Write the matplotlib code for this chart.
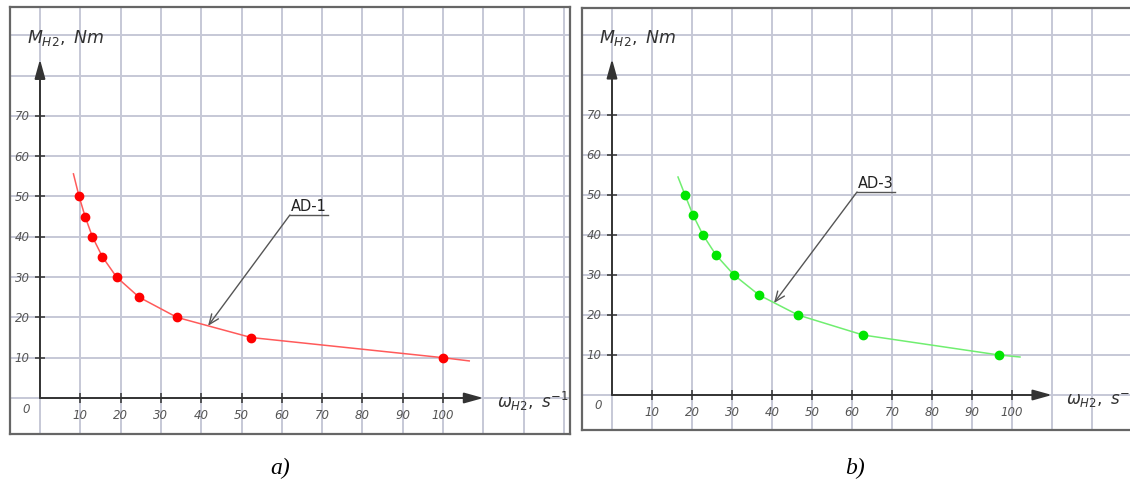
import matplotlib
matplotlib.use("Agg")
import matplotlib.pyplot as plt

# torque (Nm) vs angular speed (1/s) for two motors
torque = [50, 45, 40, 35, 30, 25, 20, 15, 10]
ad1_omega = [9.7, 11.2, 13.0, 15.5, 19.0, 24.6, 34.0, 52.4, 100.0]
ad3_omega = [18.25, 20.25, 22.75, 26.0, 30.5, 36.75, 46.5, 62.75, 96.75]
# where the drawn curves start / stop beyond the measured points
ad1_ends = [(8.3, 55.6), (106.5, 9.2)]
ad3_ends = [(16.5, 54.5), (102.0, 9.5)]

x_ticks = [10, 20, 30, 40, 50, 60, 70, 80, 90, 100]
y_ticks = [10, 20, 30, 40, 50, 60, 70]

GRID = "#c6c8d6"
AXC = "#333333"
TXT = "#555555"


def panel(ax, omega, ends, dot_c, line_c, name, tip, shelf, xlim, ylim, right_edge):
    ax.set_xlim(*xlim)
    ax.set_ylim(*ylim)
    ax.set_xticks([])
    ax.set_yticks([])
    for s in ax.spines.values():
        s.set_color("#666666")
        s.set_linewidth(1.6)
    ax.spines["right"].set_visible(right_edge)

    for g in range(0, 140, 10):
        ax.axvline(g, color=GRID, lw=1.4, zorder=0)
    for g in range(0, 100, 10):
        ax.axhline(g, color=GRID, lw=1.4, zorder=0)

    # axes with arrows
    ax.annotate("", xy=(0, 84), xytext=(0, 0),
                arrowprops=dict(arrowstyle="-|>,head_length=1.15,head_width=0.32",
                                mutation_scale=10, color=AXC, lw=1.4, shrinkA=0, shrinkB=0))
    ax.annotate("", xy=(110, 0), xytext=(0, 0),
                arrowprops=dict(arrowstyle="-|>,head_length=1.15,head_width=0.32",
                                mutation_scale=10, color=AXC, lw=1.4, shrinkA=0, shrinkB=0))
    ax.plot(x_ticks, [0] * len(x_ticks), ls="none", marker="|", ms=7, mew=1.1, color=AXC)
    ax.plot([0] * len(y_ticks), y_ticks, ls="none", marker="_", ms=7, mew=1.1, color=AXC)

    for t in x_ticks:
        ax.text(t, -4.2, str(t), ha="center", va="center", fontsize=8.5,
                style="italic", color=TXT)
    for t in y_ticks:
        ax.text(-2.6, t, str(t), ha="right", va="center", fontsize=8.5,
                style="italic", color=TXT)
    ax.text(-3.5, -2.5, "0", ha="center", va="center", fontsize=8.5,
            style="italic", color=TXT)

    ax.text(-3.3, 89.5, r"$M_{H2},\ Nm$", ha="left", va="center",
            fontsize=12.5, color="#333333")
    ax.text(113.5, -0.5, r"$\omega_{H2},\ s^{-1}$", ha="left",
            va="center", fontsize=12, color="#333333", clip_on=False)

    cx = [ends[0][0]] + omega + [ends[1][0]]
    cy = [ends[0][1]] + torque + [ends[1][1]]
    ax.plot(cx, cy, color=line_c, lw=1.1, zorder=3)
    ax.plot(omega, torque, ls="none", marker="o", ms=6, color=dot_c, zorder=4)

    # leader with label
    ax.plot([shelf[0], shelf[1]], [shelf[2], shelf[2]], color="#555555", lw=1.0)
    ax.annotate("", xy=tip, xytext=(shelf[0], shelf[2]),
                arrowprops=dict(arrowstyle="->,head_length=0.6,head_width=0.25",
                                mutation_scale=12, color="#555555", lw=1.0,
                                shrinkA=0, shrinkB=0))
    ax.text((shelf[0] + shelf[1]) / 2, shelf[2] + 0.6, name, ha="center", va="bottom",
            fontsize=10.5, color="#222222")


fig = plt.figure(figsize=(11.3, 4.89), dpi=100)
ax1 = fig.add_axes([10 / 1130, 1 - 435 / 489, 560 / 1130, 427 / 489])
ax2 = fig.add_axes([582 / 1130, 1 - 431 / 489, 548 / 1130, 422 / 489])

panel(ax1, ad1_omega, ad1_ends, "#ff0000", "#ff5a5a", "AD-1",
      (41.7, 17.9), (62.0, 71.5, 45.4), (-7.44, 131.5), (-8.93, 97.0), True)
panel(ax2, ad3_omega, ad3_ends, "#00e600", "#70ee70", "AD-3",
      (40.5, 23.0), (61.25, 70.75, 50.75), (-7.5, 129.5), (-8.75, 96.75), False)

fig.text(280 / 1130, 1 - 468 / 489, "a)", fontsize=17, style="italic",
         family="Liberation Serif", ha="center", va="center")
fig.text(855 / 1130, 1 - 468 / 489, "b)", fontsize=17, style="italic",
         family="Liberation Serif", ha="center", va="center")

fig.savefig("out.png", dpi=100, facecolor="white")
